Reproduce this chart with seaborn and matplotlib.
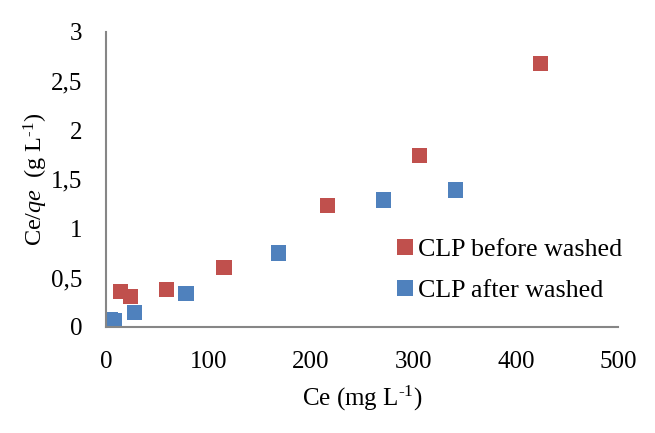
import pandas as pd
import matplotlib
matplotlib.use("Agg")
import matplotlib.pyplot as plt
import seaborn as sns

# --- Data ---
ce_before = [14, 24, 59, 115, 216, 306, 424]
qe_before = [0.36, 0.31, 0.38, 0.60, 1.235, 1.745, 2.68]

ce_after = [4, 8, 28, 78, 168, 271, 341]
qe_after = [0.07, 0.06, 0.15, 0.34, 0.75, 1.29, 1.39]

series_names = ["CLP before washed", "CLP after washed"]
series_colors = ["#C0504D", "#4F81BD"]

x_ticks = [0, 100, 200, 300, 400, 500]
y_ticks = [0, 0.5, 1, 1.5, 2, 2.5, 3]
y_ticklabels = ["0", "0,5", "1", "1,5", "2", "2,5", "3"]

df = pd.concat([
    pd.DataFrame({"Ce": ce_before, "Ce/qe": qe_before, "Sample": series_names[0]}),
    pd.DataFrame({"Ce": ce_after, "Ce/qe": qe_after, "Sample": series_names[1]}),
])

# --- Style ---
sns.set_style("white")
plt.rcParams["font.family"] = ["Liberation Serif", "DejaVu Serif"]
plt.rcParams["mathtext.fontset"] = "custom"
plt.rcParams["mathtext.rm"] = "Liberation Serif"
plt.rcParams["mathtext.it"] = "Liberation Serif:italic"
plt.rcParams["text.color"] = "black"
plt.rcParams["axes.labelcolor"] = "black"
plt.rcParams["xtick.color"] = "black"
plt.rcParams["ytick.color"] = "black"

fig = plt.figure(figsize=(6.55, 4.33), dpi=100)
ax = fig.add_axes([0.162, 0.245, 0.782, 0.682])

sns.scatterplot(
    data=df, x="Ce", y="Ce/qe", hue="Sample",
    palette=dict(zip(series_names, series_colors)),
    marker="s", s=120, linewidth=0, ax=ax,
)

ax.set_xlim(0, 500)
ax.set_ylim(0, 3)
ax.set_xticks(x_ticks)
ax.set_yticks(y_ticks)
ax.set_yticklabels(y_ticklabels)
ax.tick_params(axis="both", length=0, labelsize=18)
ax.tick_params(axis="x", pad=17)
ax.tick_params(axis="y", pad=17)

for side in ["top", "right"]:
    ax.spines[side].set_visible(False)
for side in ["left", "bottom"]:
    ax.spines[side].set_color("#868686")
    ax.spines[side].set_linewidth(1.5)

ax.set_xlabel(r"Ce (mg L$^{\text{-1}}$)", fontsize=18, labelpad=8)
ax.set_ylabel(r"Ce/$\mathit{qe}$  (g L$^{\text{-1}}$)", fontsize=17.5, labelpad=1)

ax.legend(
    loc="center left", bbox_to_anchor=(0.543, 0.193), frameon=False,
    fontsize=18.7, handlelength=0.8, handletextpad=0.1,
    labelspacing=0.66, borderaxespad=0, markerscale=1.0,
)

plt.savefig("out.png", dpi=100)
plt.close()
